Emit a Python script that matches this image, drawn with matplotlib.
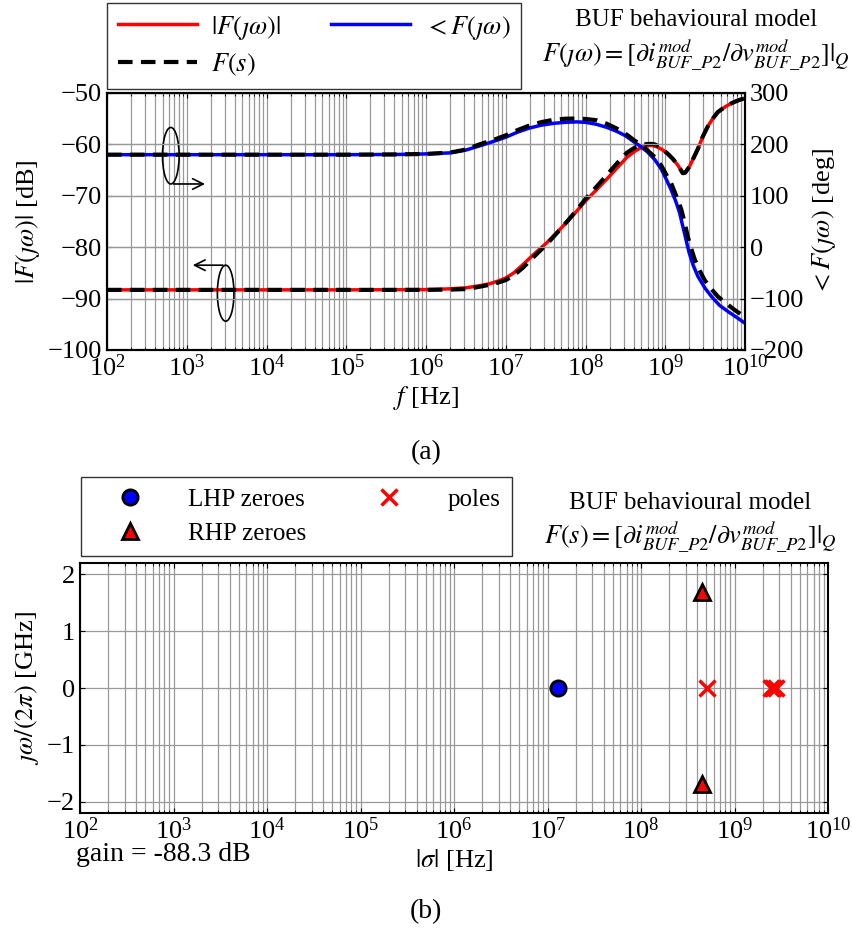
import numpy as np
import matplotlib.pyplot as plt
from matplotlib.patches import Ellipse
from matplotlib.ticker import LogLocator, NullFormatter

plt.rcParams['font.family'] = ['Liberation Serif', 'DejaVu Serif']
plt.rcParams['mathtext.fontset'] = 'stix'
plt.rcParams['font.size'] = 19

# (a) frequency response (log10 of f in Hz)
logf_mag = [2.0, 5.0, 6.0, 6.3, 6.5, 6.67, 6.8, 6.9, 7.0, 7.1, 7.215, 7.35, 7.51, 7.65,
            7.78, 7.9, 8.0, 8.14, 8.27, 8.4, 8.52, 8.62, 8.69, 8.75, 8.8, 8.85, 8.9, 8.96,
            9.03, 9.1, 9.16, 9.2, 9.22, 9.25, 9.3, 9.35, 9.41, 9.47, 9.54, 9.6, 9.66, 9.75,
            9.83, 9.92, 10.0]
mag_db = [-88.3, -88.3, -88.25, -88.1, -87.9, -87.5, -87.1, -86.6, -86.0, -85.0, -83.4, -81.4,
          -79.2, -77.0, -74.9, -72.8, -71.0, -68.8, -66.7, -64.5, -62.5, -61.3, -60.7, -60.35,
          -60.2, -60.25, -60.5, -61.0, -61.8, -62.9, -64.1, -65.1, -65.6, -65.5, -64.4, -62.8,
          -60.85, -58.5, -56.3, -54.9, -53.7, -52.7, -52.0, -51.4, -51.0]

logf_fs_mag = [2.0, 5.0, 6.0, 6.3, 6.5, 6.67, 6.8, 6.9, 7.0, 7.1, 7.215, 7.35, 7.51, 7.65,
               7.78, 7.9, 8.0, 8.14, 8.27, 8.4, 8.52, 8.62, 8.69, 8.76, 8.82, 8.87, 8.92, 8.97,
               9.03, 9.1, 9.16, 9.2, 9.22, 9.25, 9.3, 9.35, 9.41, 9.47, 9.54, 9.6, 9.66, 9.75,
               9.83, 9.92, 10.0]
fs_mag_db = [-88.3, -88.3, -88.3, -88.25, -88.15, -87.7, -87.3, -86.9, -86.4, -85.5, -84.0,
             -81.9, -79.5, -77.1, -74.8, -72.6, -70.6, -68.2, -65.9, -63.6, -61.6, -60.6, -60.2,
             -59.95, -59.9, -60.0, -60.4, -61.0, -61.8, -62.9, -64.1, -65.1, -65.6, -65.5, -64.4,
             -62.8, -60.85, -58.5, -56.3, -54.9, -53.7, -52.7, -52.0, -51.4, -51.0]

logf_ph = [2.0, 5.0, 5.67, 6.0, 6.3, 6.5, 6.67, 6.85, 7.0, 7.15, 7.3, 7.45, 7.6, 7.75, 7.89,
           8.0, 8.14, 8.27, 8.39, 8.5, 8.61, 8.7, 8.78, 8.87, 8.95, 9.01, 9.07, 9.13, 9.18,
           9.21, 9.24, 9.27, 9.3, 9.35, 9.41, 9.5, 9.58, 9.68, 9.79, 9.9, 10.0]
phase_deg = [180, 180, 180.5, 181.5, 183.5, 189, 197, 206, 214, 224, 232, 237.5, 241, 243,
             243.8, 243, 239, 233, 225.5, 217, 204.6, 195, 185, 170, 152, 133, 113, 90, 67,
             47, 28, 8, -11, -35, -57, -80, -96, -113, -125.5, -137, -148]

logf_fs_ph = [2.0, 5.0, 5.67, 6.0, 6.3, 6.5, 6.67, 6.85, 7.0, 7.15, 7.3, 7.45, 7.6, 7.75, 7.89,
              8.0, 8.14, 8.27, 8.39, 8.5, 8.61, 8.7, 8.78, 8.87, 8.95, 9.01, 9.07, 9.13, 9.2,
              9.24, 9.28, 9.32, 9.37, 9.43, 9.49, 9.57, 9.66, 9.77, 9.87, 10.0]
fs_phase_deg = [180, 180, 180.5, 181.5, 184, 190, 200, 209, 217.6, 228, 237, 243.5, 248, 250,
                250.3, 249.5, 247, 240, 231, 221, 208, 199, 188, 175, 159, 142, 126, 103, 74,
                50, 22, 0, -24, -45, -63, -80, -96, -110, -122, -136]

# (b) poles and zeroes
lhp_zero_f = [1.3e7]
lhp_zero_w = [0.0]
rhp_zero_f = [4.45e8, 4.45e8]
rhp_zero_w = [1.69, -1.69]
pole_f = [5.1e8, 2.45e9, 2.6e9, 2.75e9]
pole_w = [0.0, 0.0, 0.0, 0.0]
gain_db = -88.3


def log_axis(ax):
    ax.set_xlim(1e2, 1e10)
    ax.xaxis.set_major_locator(LogLocator(base=10, numticks=20))
    ax.xaxis.set_minor_locator(LogLocator(base=10, subs=np.arange(2, 10), numticks=200))
    ax.xaxis.set_minor_formatter(NullFormatter())


fig = plt.figure(figsize=(8.52, 9.38), dpi=100)

# ---- (a) ----
ax1 = fig.add_axes([107/852, 1-350/938, 638/852, 257/938])
ax2 = ax1.twinx()
f_mag = 10**np.array(logf_mag)
f_fs_mag = 10**np.array(logf_fs_mag)
f_ph = 10**np.array(logf_ph)
f_fs_ph = 10**np.array(logf_fs_ph)

l_mag, = ax1.semilogx(f_mag, mag_db, color='red', lw=2.5, label=r'$|F(\jmath\omega)|$')
l_fs, = ax1.semilogx(f_fs_mag, fs_mag_db, 'k--', lw=3, dashes=(3.5, 2), label=r'$F(s)$')
l_ph, = ax2.semilogx(f_ph, phase_deg, color='blue', lw=2.5, label=r'$<F(\jmath\omega)$')
ax2.semilogx(f_fs_ph, fs_phase_deg, 'k--', lw=3, dashes=(3.5, 2))

log_axis(ax1)
ax1.set_ylim(-100, -50)
ax2.set_ylim(-200, 300)
ax1.set_yticks([-100, -90, -80, -70, -60, -50])
ax2.set_yticks([-200, -100, 0, 100, 200, 300])
ax1.grid(True, which='both', axis='x', color='0.6', lw=0.9)
ax1.grid(True, which='major', axis='y', color='0.6', lw=0.9)
ax2.grid(True, which='major', axis='y', color='0.6', lw=0.9)
ax1.set_axisbelow(True)
ax1.set_xlabel(r'$f$ [Hz]', labelpad=2)
ax1.set_ylabel(r'$|F(\jmath\omega)|$ [dB]')
ax2.set_ylabel(r'$<F(\jmath\omega)$ [deg]')
ax1.tick_params(which='both', direction='in', top=True)
ax2.tick_params(which='both', direction='in')
for a in (ax1, ax2):
    for s in a.spines.values():
        s.set_linewidth(1.5)

# ellipse markers with arrows pointing to the corresponding axis
ax1.add_patch(Ellipse((0.1, 0.756), 0.026, 0.22, transform=ax1.transAxes,
                      fill=False, ec='black', lw=1.2, zorder=5))
ax1.annotate('', xy=(0.158, 0.646), xytext=(0.1, 0.646), xycoords='axes fraction',
             arrowprops=dict(arrowstyle='->', color='black', lw=1.2))
ax1.add_patch(Ellipse((0.186, 0.221), 0.026, 0.218, transform=ax1.transAxes,
                      fill=False, ec='black', lw=1.2, zorder=5))
ax1.annotate('', xy=(0.13, 0.33), xytext=(0.186, 0.33), xycoords='axes fraction',
             arrowprops=dict(arrowstyle='->', color='black', lw=1.2))

leg1 = fig.legend(handles=[l_mag, l_fs, l_ph], ncol=2, loc='upper left',
                  bbox_to_anchor=(107/852, 1-3/938), frameon=True, fancybox=False,
                  edgecolor='black', fontsize=19, handlelength=3.0, handletextpad=0.55,
                  columnspacing=1.9, borderpad=0.4, labelspacing=0.4, borderaxespad=0)
leg1.get_frame().set_linewidth(1.0)
fig.text(696/852, 1-20/938, 'BUF behavioural model', ha='center', va='center', fontsize=18)
fig.text(696/852, 1-55/938,
         r'$F(\jmath\omega) = [\partial i_{BUF\_P2}^{mod}/\partial v_{BUF\_P2}^{mod}]|_Q$',
         ha='center', va='center', fontsize=19)
fig.text(0.5, 1-453/938, '(a)', ha='center', va='center', fontsize=20)

# ---- (b) ----
ax3 = fig.add_axes([80/852, 1-813/938, 748/852, 250/938])
ax3.semilogx(lhp_zero_f, lhp_zero_w, 'o', color='blue', mec='black', mew=2, ms=11,
             ls='none', label='LHP zeroes')
ax3.semilogx(rhp_zero_f, rhp_zero_w, '^', color='red', mec='black', mew=2, ms=11,
             ls='none', label='RHP zeroes')
ax3.semilogx(pole_f, pole_w, 'x', color='red', mew=2.5, ms=11, ls='none', label='poles')
log_axis(ax3)
ax3.set_ylim(-2.2, 2.2)
ax3.set_yticks([-2, -1, 0, 1, 2])
ax3.grid(True, which='both', axis='x', color='0.6', lw=0.9)
ax3.grid(True, which='major', axis='y', color='0.6', lw=0.9)
ax3.set_axisbelow(True)
ax3.set_xlabel(r'$|\sigma|$ [Hz]', labelpad=2)
ax3.set_ylabel(r'$\jmath\omega/(2\pi)$ [GHz]')
ax3.tick_params(which='both', direction='in', top=True, right=True)
for s in ax3.spines.values():
    s.set_linewidth(1.5)
ax3.text(-0.005, -0.115, 'gain = %.1f dB' % gain_db, transform=ax3.transAxes,
         ha='left', va='top', fontsize=20)

leg2 = fig.legend(loc='upper left', handles=ax3.get_lines(), ncol=2,
                  bbox_to_anchor=(81/852, 1-477/938), frameon=True, fancybox=False,
                  edgecolor='black', fontsize=18, handlelength=3.0, handletextpad=0.85,
                  columnspacing=1.8, borderpad=0.45, labelspacing=0.45, borderaxespad=0)
leg2.get_frame().set_linewidth(1.0)
fig.text(690/852, 1-503/938, 'BUF behavioural model', ha='center', va='center', fontsize=18)
fig.text(690/852, 1-537/938,
         r'$F(s) = [\partial i_{BUF\_P2}^{mod}/\partial v_{BUF\_P2}^{mod}]|_Q$',
         ha='center', va='center', fontsize=19)
fig.text(0.5, 1-912/938, '(b)', ha='center', va='center', fontsize=20)

fig.savefig('out.png', dpi=100)
plt.close(fig)
